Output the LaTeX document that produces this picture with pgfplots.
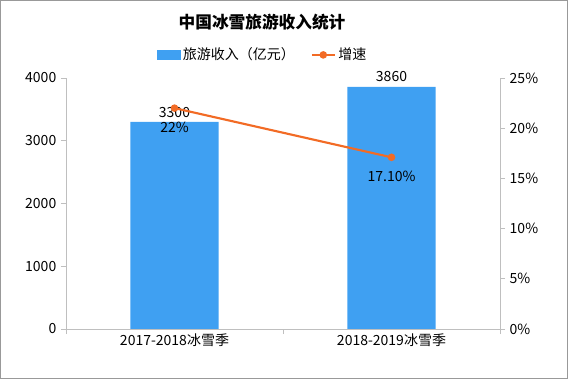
\documentclass[border=0pt]{standalone}
\usepackage{fontspec}
\setmainfont{Noto Sans CJK SC}
\usepackage{pgfplots}
\pgfplotsset{compat=1.18}
\definecolor{barblue}{HTML}{3FA0F2}
\definecolor{lineorange}{HTML}{F26B25}
\definecolor{axgray}{HTML}{BFBFBF}
\begin{document}
\begin{tikzpicture}[x=0.75pt,y=0.75pt]
\path[use as bounding box] (0,0) rectangle (568,379);
\draw[gray!80, line width=0.9pt] (0.5,0.5) rectangle (567.5,378.5);
\node[font=\fontsize{12.5}{14}\selectfont\bfseries] at (262,357) {中国冰雪旅游收入统计};
\begin{axis}[
  at={(49.5pt,37.5pt)}, anchor=south west, scale only axis,
  width=325.5pt, height=188.25pt,
  xmin=-0.5, xmax=1.5, ymin=0, ymax=4000,
  axis x line*=bottom, axis y line*=left,
  axis line style={axgray, line width=0.6pt},
  xtick={-0.5,0.5,1.5}, xticklabels={}, 
  extra x ticks={0,1},
  extra x tick labels={2017-2018冰雪季,2018-2019冰雪季},
  extra x tick style={major tick length=0pt},
  ytick={0,1000,2000,3000,4000},
  tick align=outside, major tick length=3.75pt,
  tick style={axgray, line width=0.6pt},
  ticklabel style={font=\fontsize{10.5}{12}\selectfont},
  /pgf/number format/assume math mode=true,
  /pgf/number format/1000 sep={},
  clip=false,
]
\addplot[ybar, bar width=66pt, fill=barblue, draw=none,
  nodes near coords, nodes near coords style={font=\fontsize{10.5}{12}\selectfont, /pgf/number format/1000 sep={}, /pgf/number format/assume math mode=true}]
  coordinates {(0,3300) (1,3860)};
\end{axis}
\begin{axis}[
  at={(49.5pt,37.5pt)}, anchor=south west, scale only axis,
  width=325.5pt, height=188.25pt,
  xmin=-0.5, xmax=1.5, ymin=0, ymax=25,
  axis x line=none, axis y line*=right,
  axis line style={axgray, line width=0.6pt},
  ytick={0,5,10,15,20,25},
  yticklabel={\pgfmathprintnumber{\tick}\%},
  tick align=outside, major tick length=3.75pt,
  tick style={axgray, line width=0.6pt},
  ticklabel style={font=\fontsize{10.5}{12}\selectfont},
  /pgf/number format/assume math mode=true,
  clip=false,
  legend style={at={(0.454,1.092)}, anchor=center, draw=none, fill=none,
    font=\fontsize{10.5}{12}\selectfont, legend columns=2,
    /tikz/every even column/.append style={column sep=10pt}},
]
\addlegendimage{legend image code/.code={\fill[barblue] (0pt,-3.5pt) rectangle (17pt,3.5pt);}}
\addlegendentry{旅游收入（亿元）}
\addplot[lineorange, line width=1.6pt, mark=*, mark size=2pt, mark options={fill=lineorange},
  point meta=explicit symbolic, nodes near coords,
  nodes near coords style={below=6pt, black, font=\fontsize{10.5}{12}\selectfont}]
  coordinates {(0,22) [22\%] (1,17.1) [17.10\%]};
\addlegendentry{增速}
\end{axis}
\end{tikzpicture}
\end{document}
